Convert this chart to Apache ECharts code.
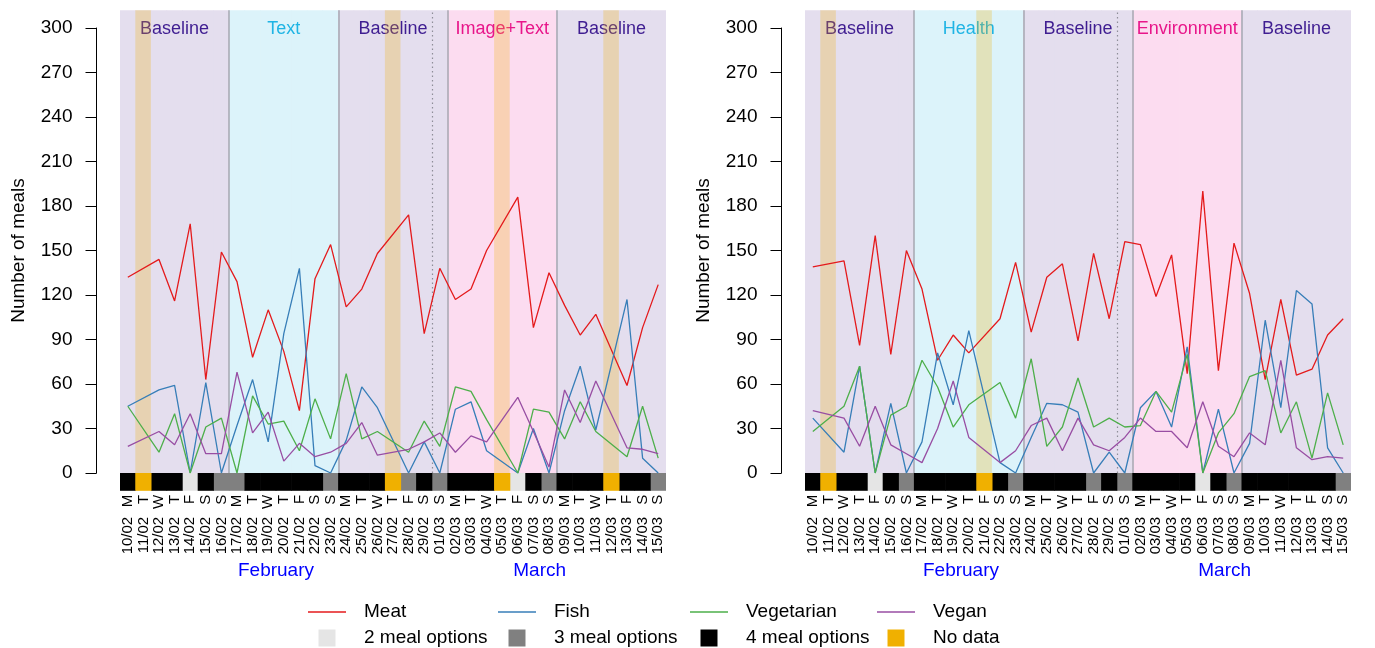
<!DOCTYPE html>
<html>
<head>
<meta charset="utf-8">
<script src="https://cdn.jsdelivr.net/npm/echarts@6/dist/echarts.min.js"></script>
<style>html,body{margin:0;padding:0;background:#fff}#c{width:1375px;height:648px}</style>
</head>
<body>
<div id="c"></div>
<script>
// ---------- data ----------
const days = ['10/02','11/02','12/02','13/02','14/02','15/02','16/02','17/02','18/02','19/02','20/02','21/02','22/02','23/02','24/02','25/02','26/02','27/02','28/02','29/02','01/03','02/03','03/03','04/03','05/03','06/03','07/03','08/03','09/03','10/03','11/03','12/03','13/03','14/03','15/03'];
const weekdays = ['M','T','W','T','F','S','S','M','T','W','T','F','S','S','M','T','W','T','F','S','S','M','T','W','T','F','S','S','M','T','W','T','F','S','S'];
const monthNames = {'02':'February','03':'March'};
const yTicks = [0,30,60,90,120,150,180,210,240,270,300];

const phaseStarts = ['10/02','17/02','24/02','02/03','09/03'];
const phasesLeft  = ['Baseline','Text','Baseline','Image+Text','Baseline'];
const phasesRight = ['Baseline','Health','Baseline','Environment','Baseline'];

const mealOptionsLeft  = ['4','NA','4','4','2','4','3','3','4','4','4','4','4','3','4','4','4','NA','3','4','3','4','4','4','NA','2','4','3','4','4','4','NA','4','4','3'];
const mealOptionsRight = ['4','NA','4','4','2','4','3','4','4','4','4','NA','4','3','4','4','4','4','3','4','3','4','4','4','4','2','4','3','4','4','4','4','4','4','3'];

const meatLeft  = [132,null,144,116,168,63,149,129,78,110,82,42,131,154,112,124,148,null,174,94,138,117,124,150,null,186,98,135,113,93,107,null,59,98,127];
const fishLeft  = [45,null,56,59,0,61,0,32,63,21,94,138,5,0,22,58,44,null,0,21,0,43,48,15,null,0,30,0,42,72,29,null,117,10,0];
const vegLeft   = [45,null,14,40,0,31,37,0,52,33,35,15,50,23,67,23,28,null,14,35,18,58,55,36,null,0,43,41,23,48,28,null,11,45,10];
const veganLeft = [18,null,28,19,40,13,13,68,27,41,8,20,11,14,20,34,12,null,16,21,27,14,25,21,null,51,28,4,56,34,62,null,17,16,13];

const meatRight  = [139,null,143,86,160,80,150,124,76,93,81,null,104,142,95,132,141,89,148,104,156,154,119,147,67,190,69,155,121,63,117,66,70,93,104];
const fishRight  = [37,null,14,72,0,47,0,21,81,46,96,null,7,0,24,47,46,41,0,14,0,44,55,31,85,0,43,0,20,103,44,123,114,17,0];
const vegRight   = [28,null,45,72,0,39,45,76,58,31,46,null,61,37,77,18,31,64,31,37,31,32,55,41,80,0,27,40,65,69,27,48,10,54,19];
const veganRight = [42,null,37,18,45,19,13,7,30,62,24,null,7,15,32,37,15,37,19,15,24,37,28,28,17,48,18,11,27,19,76,17,9,11,10];

const seriesNames = ['Meat','Fish','Vegetarian','Vegan'];
const optionCodes = ['2','3','4','NA'];
const optionNames = ['2 meal options','3 meal options','4 meal options','No data'];

// ---------- styles ----------
const FONT = '"Liberation Sans", Arial, Helvetica, sans-serif';
const lineColors = ['#E41A1C','#377EB8','#4DAF4A','#984EA3'];
const optionColors = ['#E5E5E5','#808080','#000000','#F0B000'];
const noDataOverlay = 'rgba(240,176,0,0.25)';
const phaseStyle = {
  'Baseline':   {bg:'#E4DEEE', fg:'#3F1D91'},
  'Text':       {bg:'#DCF3FA', fg:'#1FB4E4'},
  'Health':     {bg:'#DCF3FA', fg:'#1FB4E4'},
  'Image+Text': {bg:'#FCDCF0', fg:'#E8168A'},
  'Environment':{bg:'#FCDCF0', fg:'#E8168A'}
};
const Y_MIN = -12, Y_MAX = 312;   // plot region incl. strip (R 4% expansion)

const panels = [
  {left:120, phases:phasesLeft,  options:mealOptionsLeft,  values:[meatLeft,fishLeft,vegLeft,veganLeft]},
  {left:805, phases:phasesRight, options:mealOptionsRight, values:[meatRight,fishRight,vegRight,veganRight]}
];
const PW = 546;
const CELL = '104%';   // slight overlap so neighbouring cells leave no anti-aliasing seams

const startIdx = phaseStarts.map(s => days.indexOf(s));
function phaseOf(i){ let p = 0; startIdx.forEach((s,k)=>{ if (i >= s) p = k; }); return p; }
const phaseBoundaries = startIdx.filter(s => s > 0);
const monthBoundaries = days.map((d,i)=> (i>0 && d.slice(3)!==days[i-1].slice(3)) ? i : -1).filter(i=>i>0);
const monthKeys = [...new Set(days.map(d=>d.slice(3)))];
const monthPos = [10.5, 27.4];

const solidStyle = {color:'#A9ABB5', width:1.6, type:'solid'};
const dottedStyle = {color:'#8E8E98', width:1.2, type:[1.5,3]};
function vline(i, style){ // boundary before day index i (value axis: day k centred on k+1)
  return [{coord:[i+0.5, 0], lineStyle:style}, {coord:[i+0.5, Y_MAX]}];
}

const grid = [], xAxis = [], yAxis = [], series = [];
panels.forEach((P, p) => {
  const gA = 2*p, gB = 2*p+1;
  grid.push({left:P.left, width:PW, top:10.2, height:480.6});
  grid.push({left:P.left, width:PW, top:28, height:445});
  const xb = 4*p, yb = 2*p;
  xAxis.push({type:'category', gridIndex:gA, data:days, position:'bottom', boundaryGap:true,
    axisLine:{show:false}, axisTick:{show:false}, splitLine:{show:false},
    axisLabel:{interval:0, rotate:90, margin:4, fontSize:15, color:'#000', fontFamily:FONT, formatter:(v,i)=>weekdays[i]}});
  xAxis.push({type:'category', gridIndex:gA, data:days, position:'bottom', boundaryGap:true,
    axisLine:{show:false}, axisTick:{show:false}, splitLine:{show:false},
    axisLabel:{interval:0, rotate:90, margin:26, fontSize:15, color:'#000', fontFamily:FONT}});
  xAxis.push({type:'value', gridIndex:gA, min:0.5, max:days.length+0.5, position:'bottom',
    axisLine:{show:false}, axisTick:{show:false}, splitLine:{show:false},
    axisLabel:{customValues:monthPos, margin:70, fontSize:19, color:'#0000FF', fontFamily:FONT,
      formatter:(v)=>monthNames[monthKeys[monthPos.indexOf(v)]]}});
  xAxis.push({type:'category', gridIndex:gB, data:days, show:false, boundaryGap:true});
  yAxis.push({type:'value', gridIndex:gA, min:Y_MIN, max:Y_MAX, show:false});
  yAxis.push({type:'value', gridIndex:gB, min:0, max:300, interval:30, offset:23.5,
    axisLine:{show:true, lineStyle:{color:'#000', width:1}},
    axisTick:{show:true, length:11, lineStyle:{color:'#000', width:1}},
    axisLabel:{fontSize:19, margin:24, color:'#000', fontFamily:FONT},
    splitLine:{show:false},
    name:'Number of meals', nameLocation:'middle', nameGap:68,
    nameTextStyle:{fontSize:19, color:'#000', fontFamily:FONT}});

  // phase shading with phase labels
  series.push({type:'bar', xAxisIndex:xb, yAxisIndex:yb, z:1, silent:true, barWidth:CELL, barGap:'-100%', barCategoryGap:0,
    data: days.map((d,i)=>{
      const ph = phaseOf(i), name = P.phases[ph], st = phaseStyle[name];
      const nextStart = ph+1 < startIdx.length ? startIdx[ph+1] : days.length;
      const mid = startIdx[ph] + Math.floor((nextStart - startIdx[ph])/2);
      return {value:Y_MAX, itemStyle:{color:st.bg},
        label:{show:i===mid, position:'insideTop', distance:10, formatter:name, color:st.fg, fontSize:18, fontFamily:FONT}};
    })});
  // no-data overlay
  series.push({type:'bar', xAxisIndex:xb, yAxisIndex:yb, z:2, silent:true, barWidth:'100%', barGap:'-100%', barCategoryGap:0,
    itemStyle:{color:noDataOverlay},
    data: P.options.map(o => o==='NA' ? Y_MAX : '-')});
  // phase / month boundary lines
  series.push({type:'line', xAxisIndex:xb+2, yAxisIndex:yb, z:3, silent:true, data:[],
    markLine:{silent:true, symbol:'none', label:{show:false}, animation:false,
      data: phaseBoundaries.map(i=>vline(i, solidStyle)).concat(monthBoundaries.map(i=>vline(i, dottedStyle)))}});
  // meal-option strip
  optionCodes.forEach((code,k)=>{
    series.push({type:'bar', name:optionNames[k], xAxisIndex:xb, yAxisIndex:yb, z:4, silent:true,
      barWidth:CELL, barGap:'-100%', barCategoryGap:0,
      itemStyle:{color:optionColors[k]},
      data: P.options.map(o => o===code ? Y_MIN : '-')});
  });
  // lines
  seriesNames.forEach((nm,k)=>{
    series.push({type:'line', name:nm, xAxisIndex:xb+3, yAxisIndex:yb+1, z:10, data:P.values[k],
      connectNulls:true, symbol:'none', showSymbol:false,
      lineStyle:{color:lineColors[k], width:1.3}, itemStyle:{color:lineColors[k]}});
  });
});

const legendCols = [308, 498, 690, 877];
const squareIcon = 'path://M0,0H10V10H0Z';
const lineIcon = 'path://M0,0H38V1.3H0Z';
const legend = legendCols.map((x,c)=>({
  left:x, top:602.5, orient:'vertical', itemWidth:38, itemHeight:17, itemGap:7, padding:0, selectedMode:false,
  textStyle:{fontSize:19, color:'#000', fontFamily:FONT, padding:[0,0,0,13]},
  data:[{name:seriesNames[c], icon:lineIcon}, {name:optionNames[c], icon:squareIcon}]
}));

const chart = echarts.init(document.getElementById('c'), null, {renderer:'canvas'});
chart.setOption({animation:false, textStyle:{fontFamily:FONT}, grid, xAxis, yAxis, series, legend});
</script>
</body>
</html>
